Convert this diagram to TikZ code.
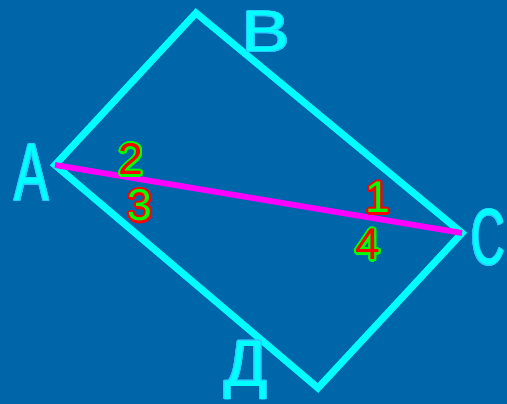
\documentclass[tikz,border=0pt]{standalone}
\usepackage{fontspec}
\usepackage{graphicx}
\usepackage{contour}
\usetikzlibrary{positioning}
\setmainfont{Liberation Sans}
\definecolor{bgblue}{RGB}{0,102,170}
\definecolor{edgecyan}{RGB}{0,255,255}
\definecolor{rimcyan}{RGB}{40,200,255}
\definecolor{diagmag}{RGB}{255,0,255}
\definecolor{numgreen}{RGB}{0,255,0}
\definecolor{numred}{RGB}{255,0,0}
% vertex letter: x scale, y scale, text
\newcommand{\vlab}[3]{\contourlength{0.8pt}\contour{rimcyan}{\textcolor{edgecyan}{\scalebox{#1}[#2]{#3}}}}
\newcommand{\rednum}[1]{\contourlength{1.8pt}\contour{numgreen}{\textcolor{numred}{#1}}}
\newcommand{\greennum}[1]{\contourlength{1.8pt}\contour{numred}{\textcolor{numgreen}{#1}}}

\begin{document}
\begin{tikzpicture}[x=0.03cm,y=-0.03cm,
  side/.style={draw=edgecyan, line width=6pt, line join=miter},
  diag/.style={draw=diagmag, line width=5pt},
  vert/.style={font=\fontsize{20}{20}\selectfont, inner sep=0pt, anchor=base},
  ang/.style={font=\fontsize{38}{38}\selectfont, inner sep=0pt, anchor=base}]
\fill[bgblue] (0,0) rectangle (507,404);
\useasboundingbox (0,0) rectangle (507,404);
\coordinate (A) at (55,165);
\coordinate (B) at (196,13);
\coordinate (C) at (462,233);
\coordinate (D) at (318,388);
\draw[side] (A) -- (B) -- (C) -- (D) -- cycle;
\draw[diag] (A) -- (C);
\node[vert] (lA) at (32,201) {\vlab{2.2}{3.5}{A}};
\node[vert] (lB) at (266,52) {\vlab{3.1}{2.5}{B}};
\node[vert] (lC) at (488,265) {\vlab{2.0}{3.4}{C}};
\node[vert] (lD) at (246,386) {\vlab{2.7}{2.8}{Д}};
\node[ang] (n2) at (131,175) {\rednum{2}};
\node[ang] (n3) at (140,221) {\greennum{3}};
\node[ang] (n1) at (378,213) {\greennum{1}};
\node[ang] (n4) at (368,260) {\rednum{4}};
\end{tikzpicture}
\end{document}
